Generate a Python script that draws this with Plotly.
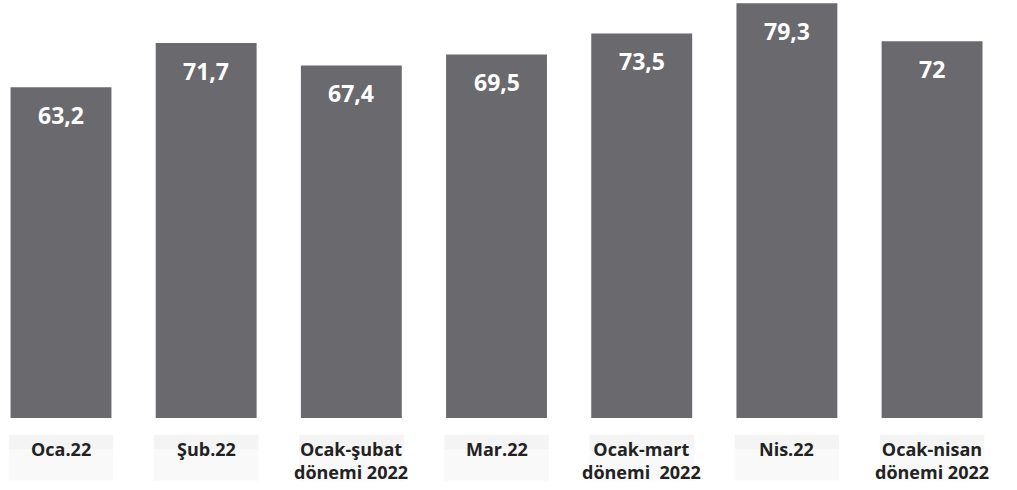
import plotly.graph_objects as go

categories = ["Oca.22", "Şub.22", "Ocak-şubat<br>dönemi 2022", "Mar.22",
              "Ocak-mart<br>dönemi  2022", "Nis.22", "Ocak-nisan<br>dönemi 2022"]
values = [63.2, 71.7, 67.4, 69.5, 73.5, 79.3, 72]
value_labels = ["63,2", "71,7", "67,4", "69,5", "73,5", "79,3", "72"]

xs = list(range(len(categories)))
FONT = "Open Sans"

fig = go.Figure()
fig.add_trace(go.Bar(
    x=xs, y=values, width=0.695,
    marker=dict(color="#6a6a6e", line=dict(width=0)),
    hoverinfo="skip",
))

annotations = []
for x, v, t in zip(xs, values, value_labels):
    annotations.append(dict(x=x, y=v, xref="x", yref="y", text=t, showarrow=False,
                            yanchor="middle", yshift=-28,
                            font=dict(family=FONT, size=23, color="white", weight="bold")))
for x, c in zip(xs, categories):
    annotations.append(dict(x=x, y=0, xref="x", yref="y", text=c, showarrow=False,
                            yanchor="top", yshift=-17,
                            font=dict(family=FONT, size=18, color="#222222", weight="bold")))

shapes = []
for x in xs:
    shapes.append(dict(type="rect", xref="x", yref="paper", x0=x - 0.36, x1=x + 0.36,
                       y0=-0.04, y1=-0.075, fillcolor="#f4f4f4", line=dict(width=0), layer="below"))
    shapes.append(dict(type="rect", xref="x", yref="paper", x0=x - 0.36, x1=x + 0.36,
                       y0=-0.075, y1=-0.15, fillcolor="#f9f9f9", line=dict(width=0), layer="below"))

fig.update_layout(
    width=1017, height=490,
    margin=dict(l=0, r=0, t=0, b=72),
    paper_bgcolor="white", plot_bgcolor="white",
    showlegend=False,
    xaxis=dict(range=[-0.42, 6.585], showticklabels=False, showgrid=False,
               zeroline=False, showline=False, ticks=""),
    yaxis=dict(range=[0, 79.9], showticklabels=False, showgrid=False,
               zeroline=False, showline=False, ticks=""),
    annotations=annotations,
    shapes=shapes,
)

fig.write_html("out.html", config={"displayModeBar": False},
               post_script="document.body.style.margin='0';")
